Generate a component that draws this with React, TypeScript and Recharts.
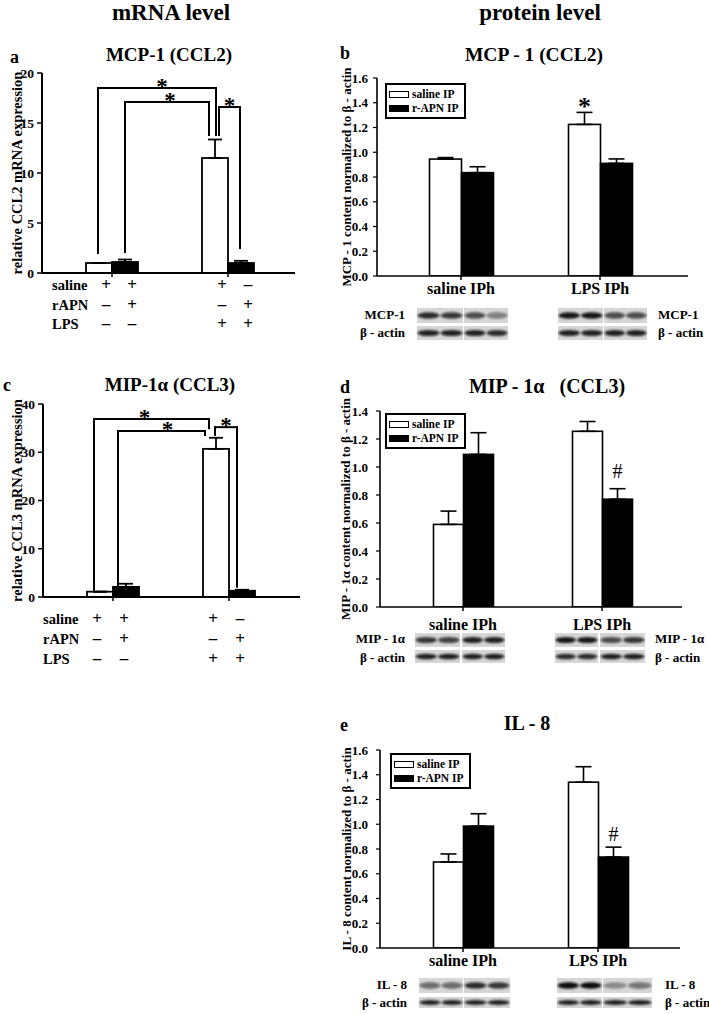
import React from "react";
import { BarChart, Bar, XAxis, YAxis, ErrorBar, ReferenceLine, Legend } from "recharts";

const SERIF = "'Liberation Serif', 'Times New Roman', Times, serif";

// ---------------- data: mRNA level (panels a, c) ----------------
const mrnaGroups = ["saline", "LPS"];
const conditionRows = ["saline", "rAPN", "LPS"];
const salineSigns = ["+", "+", "+", "–"];
const rapnSigns = ["–", "+", "–", "+"];
const lpsSigns = ["–", "–", "+", "+"];

const ccl2Control = [1.0, 11.5];
const ccl2ControlErr = [0, 1.85];
const ccl2Rapn = [1.1, 1.0];
const ccl2RapnErr = [0.25, 0.22];
const ccl2Ticks = [0, 5, 10, 15, 20];

const ccl3Control = [1.1, 30.7];
const ccl3ControlErr = [0, 2.3];
const ccl3Rapn = [2.1, 1.3];
const ccl3RapnErr = [0.65, 0.2];
const ccl3Ticks = [0, 10, 20, 30, 40];

// ---------------- data: protein level (panels b, d, e) ----------------
const proteinGroups = ["saline IPh", "LPS IPh"];
const seriesNames = ["saline IP", "r-APN IP"];

const mcp1Saline = [0.945, 1.225];
const mcp1SalineErr = [0.012, 0.097];
const mcp1Rapn = [0.835, 0.91];
const mcp1RapnErr = [0.048, 0.036];
const mcp1SalineMarks = ["", "*"];
const mcp1RapnMarks = ["", ""];
const mcp1Ticks = [0, 0.2, 0.4, 0.6, 0.8, 1.0, 1.2, 1.4, 1.6];

const mip1Saline = [0.59, 1.255];
const mip1SalineErr = [0.095, 0.07];
const mip1Rapn = [1.09, 0.77];
const mip1RapnErr = [0.155, 0.075];
const mip1SalineMarks = ["", ""];
const mip1RapnMarks = ["", "#"];
const mip1Ticks = [0, 0.2, 0.4, 0.6, 0.8, 1.0, 1.2, 1.4];

const il8Saline = [0.695, 1.34];
const il8SalineErr = [0.065, 0.125];
const il8Rapn = [0.985, 0.735];
const il8RapnErr = [0.1, 0.08];
const il8SalineMarks = ["", ""];
const il8RapnMarks = ["", "#"];
const il8Ticks = [0, 0.2, 0.4, 0.6, 0.8, 1.0, 1.2, 1.4, 1.6];

// significance brackets: [category, bar (0 = no rAPN, 1 = rAPN), fine dx]
const ccl2Brackets = [
  { l: ["saline", 0, -1], r: ["LPS", 0, 1], top: 18.5, lLow: 2.0, rLow: 13.8, starDx: 5 },
  { l: ["saline", 1, 0], r: ["LPS", 0, -6], top: 17.1, lLow: 2.1, rLow: 13.8, starDx: 3 },
  { l: ["LPS", 0, 4], r: ["LPS", 1, -1], top: 16.6, lLow: 13.8, rLow: 2.5, starDx: 0 },
];
const ccl3Brackets = [
  { l: ["saline", 0, -6], r: ["LPS", 0, -7], top: 36.9, lLow: 1.5, rLow: 35.0, starDx: -7 },
  { l: ["saline", 1, -8], r: ["LPS", 0, -11], top: 34.4, lLow: 1.9, rLow: 33.6, starDx: 6 },
  { l: ["LPS", 0, -1], r: ["LPS", 1, -5], top: 35.2, lLow: 33.6, rLow: 2.1, starDx: 0 },
];

// ---------------- helpers ----------------
const makeRows = (groups, a, aErr, b, bErr, aMarks?, bMarks?) =>
  groups.map((g, i) => ({
    g,
    a: a[i],
    aErr: aErr[i],
    b: b[i],
    bErr: bErr[i],
    aMark: aMarks ? aMarks[i] : "",
    bMark: bMarks ? bMarks[i] : "",
  }));

const barShape = (which, fill, sw, markCfg, rows) => (p) => {
  const { x, y, width, height, index } = p;
  const src = p.payload ?? rows[index];
  const mark = src ? src[which + "Mark"] : "";
  let markEl = null;
  if (mark && markCfg) {
    const val = src[which];
    const err = src[which + "Err"];
    const errPx = val ? (height * err) / val : 0;
    markEl = (
      <text
        x={x + width / 2}
        y={y - errPx - markCfg[mark].gap}
        textAnchor="middle"
        fontFamily={SERIF}
        fontSize={markCfg[mark].size}
        fontWeight={markCfg[mark].weight}
        fill="#000"
      >
        {mark}
      </text>
    );
  }
  return (
    <g>
      <rect x={x} y={y} width={width} height={Math.max(height, 0)} fill={fill} stroke="#000" strokeWidth={sw} />
      {markEl}
    </g>
  );
};

const offsetLine = (dx1, dx2, star?, starDx?) => (p) => (
  <g>
    <line
      x1={p.x1 + dx1}
      y1={p.y1}
      x2={p.x2 + dx2}
      y2={p.y2}
      stroke="#000"
      strokeWidth={2}
      strokeLinecap="square"
    />
    {star ? (
      <text
        x={(p.x1 + dx1 + p.x2 + dx2) / 2 + (starDx || 0)}
        y={p.y1 + 6}
        textAnchor="middle"
        fontFamily={SERIF}
        fontWeight="bold"
        fontSize={23}
        fill="#000"
      >
        *
      </text>
    ) : null}
  </g>
);

const mrnaTick = (cfg) => (props) => {
  const { x, y, index } = props;
  const els = [];
  [salineSigns, rapnSigns, lpsSigns].forEach((signs, r) => {
    [0, 1].forEach((j) => {
      els.push(
        <text
          key={`s${r}${j}`}
          x={x + cfg.signDx[j]}
          y={y + cfg.rowDy[r]}
          textAnchor="middle"
          fontFamily={SERIF}
          fontWeight="bold"
          fontSize={17}
          fill="#000"
        >
          {signs[index * 2 + j]}
        </text>
      );
    });
    if (index === 0) {
      els.push(
        <text
          key={`n${r}`}
          x={x - cfg.nameOffset}
          y={y + cfg.rowDy[r]}
          textAnchor="start"
          fontFamily={SERIF}
          fontWeight="bold"
          fontSize={14.5}
          fill="#000"
        >
          {conditionRows[r]}
        </text>
      );
    }
  });
  return <g>{els}</g>;
};

function MrnaPanel({ cfg }) {
  const rows = makeRows(mrnaGroups, cfg.control, cfg.controlErr, cfg.rapn, cfg.rapnErr);
  const half = cfg.barSize / 2;
  const lw = 2;
  const off = (bar, dx) => (bar === 0 ? -half : half) + dx;
  const bracketEls = [];
  cfg.brackets.forEach((br, k) => {
    const lo = off(br.l[1], br.l[2]);
    const ro = off(br.r[1], br.r[2]);
    bracketEls.push(
      <ReferenceLine
        key={`bl${k}`}
        ifOverflow="visible"
        segment={[{ x: br.l[0], y: br.lLow }, { x: br.l[0], y: br.top }]}
        shape={offsetLine(lo, lo)}
      />
    );
    bracketEls.push(
      <ReferenceLine
        key={`bt${k}`}
        ifOverflow="visible"
        segment={[{ x: br.l[0], y: br.top }, { x: br.r[0], y: br.top }]}
        shape={offsetLine(lo, ro, true, br.starDx)}
      />
    );
    bracketEls.push(
      <ReferenceLine
        key={`br${k}`}
        ifOverflow="visible"
        segment={[{ x: br.r[0], y: br.top }, { x: br.r[0], y: br.rLow }]}
        shape={offsetLine(ro, ro)}
      />
    );
  });
  return (
    <div style={{ position: "absolute", left: cfg.left, top: cfg.top }}>
      <BarChart width={cfg.width} height={cfg.height} data={rows} margin={cfg.margin} barGap={0} barSize={cfg.barSize}>
        <XAxis
          dataKey="g"
          type="category"
          padding={cfg.padding}
          height={cfg.xHeight}
          axisLine={{ stroke: "#000", strokeWidth: lw }}
          tickLine={{ stroke: "#000", strokeWidth: 1.5 }}
          tickSize={4}
          tickMargin={0}
          interval={0}
          tick={mrnaTick(cfg)}
        />
        <XAxis xAxisId="top" orientation="top" height={0} tick={false} tickLine={false} axisLine={{ stroke: "#000", strokeWidth: lw }} />
        <YAxis
          domain={cfg.domain}
          ticks={cfg.ticks}
          allowDataOverflow
          width={cfg.yWidth}
          axisLine={{ stroke: "#000", strokeWidth: lw }}
          tickLine={{ stroke: "#000", strokeWidth: 1.5 }}
          tickSize={5}
          tickMargin={3}
          tick={{ fontFamily: SERIF, fontWeight: "bold", fontSize: 13.5, fill: "#000" }}
          label={{
            value: cfg.yLabel,
            angle: -90,
            position: "insideLeft",
            offset: cfg.labelX,
            style: { textAnchor: "middle", fontFamily: SERIF, fontWeight: "bold", fontSize: 14.5, fill: "#000" },
          }}
        />
        <YAxis yAxisId="right" orientation="right" width={0} domain={[0, 1]} tick={false} tickLine={false} axisLine={{ stroke: "#000", strokeWidth: lw }} />
        <Bar dataKey="a" fill="#fff" isAnimationActive={false} shape={barShape("a", "#fff", 1.8, null, rows)}>
          <ErrorBar dataKey={(d) => [0, (d.payload ?? d).aErr]} width={7} strokeWidth={1.8} stroke="#000" direction="y" />
        </Bar>
        <Bar dataKey="b" fill="#000" isAnimationActive={false} shape={barShape("b", "#000", 1.8, null, rows)}>
          <ErrorBar dataKey={(d) => [0, (d.payload ?? d).bErr]} width={7} strokeWidth={1.8} stroke="#000" direction="y" />
        </Bar>
        {bracketEls}
      </BarChart>
    </div>
  );
}

const legendContent = () => (
  <div
    style={{
      border: "2.5px solid #000",
      padding: "2px 5px 2px 2px",
      background: "#fff",
      fontFamily: SERIF,
      fontWeight: "bold",
      fontSize: 11.5,
      lineHeight: "14px",
      whiteSpace: "nowrap",
      color: "#000",
    }}
  >
    {seriesNames.map((n, i) => (
      <div key={n} style={{ display: "flex", alignItems: "center" }}>
        <span
          style={{
            display: "inline-block",
            width: 20,
            height: 7,
            background: i ? "#000" : "#fff",
            border: "1.5px solid #000",
            boxSizing: "border-box",
            marginRight: 3,
          }}
        />
        {n}
      </div>
    ))}
  </div>
);

const markCfgProtein = {
  "*": { gap: -3, size: 26, weight: "bold" },
  "#": { gap: 9, size: 20, weight: "normal" },
};

function ProteinPanel({ cfg }) {
  const rows = makeRows(proteinGroups, cfg.saline, cfg.salineErr, cfg.rapn, cfg.rapnErr, cfg.salineMarks, cfg.rapnMarks);
  const lw = 1.6;
  const marks = { "*": markCfgProtein["*"], "#": { ...markCfgProtein["#"], gap: cfg.hashGap } };
  return (
    <div style={{ position: "absolute", left: cfg.left, top: cfg.top }}>
      <BarChart width={cfg.width} height={cfg.height} data={rows} margin={cfg.margin} barGap={0} barSize={cfg.barSize}>
        <XAxis
          dataKey="g"
          type="category"
          padding={cfg.padding}
          height={cfg.xHeight}
          axisLine={{ stroke: "#000", strokeWidth: lw }}
          tickLine={{ stroke: "#000", strokeWidth: 1.5 }}
          tickSize={4}
          tickMargin={0}
          interval={0}
          tick={(p) => (
            <text x={p.x} y={p.y + cfg.xLabelDy} textAnchor="middle" fontFamily={SERIF} fontWeight="bold" fontSize={16} fill="#000">
              {p.payload.value}
            </text>
          )}
        />
        <XAxis xAxisId="top" orientation="top" height={0} tick={false} tickLine={false} axisLine={{ stroke: "#000", strokeWidth: lw }} />
        <YAxis
          domain={cfg.domain}
          ticks={cfg.ticks}
          allowDataOverflow
          width={cfg.yWidth}
          axisLine={{ stroke: "#000", strokeWidth: lw }}
          tickLine={{ stroke: "#000", strokeWidth: 1.2 }}
          tickSize={4}
          tickMargin={cfg.tickMargin}
          tickFormatter={(v) => Number(v).toFixed(1)}
          tick={{ fontFamily: SERIF, fontWeight: "bold", fontSize: 13, fill: "#000" }}
          label={{
            value: cfg.yLabel,
            angle: -90,
            position: "insideLeft",
            offset: cfg.labelX,
            style: { textAnchor: "middle", fontFamily: SERIF, fontWeight: "bold", fontSize: 13, fill: "#000" },
          }}
        />
        <YAxis yAxisId="right" orientation="right" width={0} domain={[0, 1]} tick={false} tickLine={false} axisLine={{ stroke: "#000", strokeWidth: lw }} />
        <Legend
          layout="vertical"
          align="center"
          verticalAlign="middle"
          content={legendContent}
          wrapperStyle={{ left: cfg.legend.left, top: cfg.legend.top, width: "auto" }}
        />
        <Bar dataKey="a" name={seriesNames[0]} fill="#fff" isAnimationActive={false} shape={barShape("a", "#fff", 1.6, marks, rows)}>
          <ErrorBar dataKey={(d) => [0, (d.payload ?? d).aErr]} width={8} strokeWidth={1.6} stroke="#000" direction="y" />
        </Bar>
        <Bar dataKey="b" name={seriesNames[1]} fill="#000" isAnimationActive={false} shape={barShape("b", "#000", 1.6, marks, rows)}>
          <ErrorBar dataKey={(d) => [0, (d.payload ?? d).bErr]} width={8} strokeWidth={1.6} stroke="#000" direction="y" />
        </Bar>
      </BarChart>
    </div>
  );
}

// ---------------- western blot strips (decorative images) ----------------
function Blot({ spec }) {
  const els = [];
  const rowTops = spec.rowY;
  const rowHs = spec.rowH;
  spec.boxes.forEach((bx, bi) => {
    [0, 1].forEach((r) => {
      const y0 = rowTops[r];
      const h = rowHs[r];
      els.push(<rect key={`bg${bi}${r}`} x={bx[0]} y={y0} width={bx[1] - bx[0]} height={h} fill="#d6d6d6" />);
      const laneW = (bx[1] - bx[0]) / 2;
      [0, 1].forEach((ln) => {
        const d = (r === 0 ? spec.protein : spec.actin)[bi * 2 + ln];
        els.push(
          <ellipse
            key={`bd${bi}${r}${ln}`}
            cx={bx[0] + laneW * (ln + 0.5)}
            cy={y0 + h / 2}
            rx={laneW / 2 - 0.5}
            ry={h * 0.22}
            fill={`rgba(15,15,15,${d})`}
            filter="url(#blur)"
          />
        );
      });
    });
  });
  const txt = (x, y, s, anchor) => (
    <text x={x} y={y} textAnchor={anchor} fontFamily={SERIF} fontWeight="bold" fontSize={13} fill="#000">
      {s}
    </text>
  );
  return (
    <g>
      {els}
      {txt(spec.leftLabelX, spec.baselines[0], spec.name, "end")}
      {txt(spec.leftLabelX, spec.baselines[1], "β - actin", "end")}
      {txt(spec.rightLabelX, spec.baselines[0], spec.name, "start")}
      {txt(spec.rightLabelX, spec.baselines[1], "β - actin", "start")}
    </g>
  );
}

const blotSpecs = [
  {
    name: "MCP-1",
    rowY: [308, 326],
    rowH: [15, 14],
    baselines: [319, 337],
    leftLabelX: 405,
    rightLabelX: 658,
    boxes: [[417, 463], [464, 508], [558, 603], [604, 647]],
    protein: [0.85, 0.8, 0.7, 0.45, 0.95, 0.95, 0.7, 0.7],
    actin: [0.9, 0.9, 0.9, 0.85, 0.9, 0.9, 0.9, 0.9],
  },
  {
    name: "MIP - 1α",
    rowY: [633, 650],
    rowH: [14, 13],
    baselines: [643, 662],
    leftLabelX: 405,
    rightLabelX: 655,
    boxes: [[415, 460], [462, 505], [555, 598], [600, 645]],
    protein: [0.8, 0.75, 0.9, 0.9, 0.95, 0.95, 0.7, 0.8],
    actin: [0.9, 0.9, 0.9, 0.9, 0.85, 0.85, 0.9, 0.9],
  },
  {
    name: "IL - 8",
    rowY: [978, 997],
    rowH: [15, 11],
    baselines: [989, 1007],
    leftLabelX: 407,
    rightLabelX: 665,
    boxes: [[419, 463], [464, 510], [557, 602], [603, 652]],
    protein: [0.55, 0.55, 0.85, 0.8, 1, 1, 0.35, 0.5],
    actin: [0.9, 0.9, 0.9, 0.9, 0.9, 0.9, 0.9, 0.9],
  },
];

const headerTexts = [
  { s: "mRNA level", x: 171, y: 20, size: 23, anchor: "middle" },
  { s: "protein level", x: 540, y: 20, size: 23, anchor: "middle" },
  { s: "a", x: 10, y: 63, size: 18, anchor: "start" },
  { s: "MCP-1 (CCL2)", x: 169, y: 61, size: 19, anchor: "middle" },
  { s: "b", x: 340, y: 59, size: 18, anchor: "start" },
  { s: "MCP - 1 (CCL2)", x: 534, y: 61, size: 19.5, anchor: "middle" },
  { s: "c", x: 3, y: 391, size: 18, anchor: "start" },
  { s: "MIP-1α (CCL3)", x: 170, y: 391, size: 19, anchor: "middle" },
  { s: "d", x: 340, y: 393, size: 18, anchor: "start" },
  { s: "MIP - 1α   (CCL3)", x: 547, y: 393, size: 20, anchor: "middle" },
  { s: "e", x: 340, y: 731, size: 18, anchor: "start" },
  { s: "IL - 8", x: 527, y: 730, size: 20, anchor: "middle" },
];

const panelA = {
  left: 0, top: 40, width: 310, height: 300,
  margin: { top: 33, right: 15, bottom: 7, left: 0 },
  yWidth: 42, xHeight: 60, domain: [0, 20], ticks: ccl2Ticks,
  padding: { left: 12, right: 9 }, barSize: 26, labelX: 17,
  rowDy: [13, 33, 52], signDx: [-6, 20], nameOffset: 60,
  control: ccl2Control, controlErr: ccl2ControlErr, rapn: ccl2Rapn, rapnErr: ccl2RapnErr,
  brackets: ccl2Brackets, yLabel: "relative CCL2 mRNA expression",
};
const panelC = {
  left: 0, top: 380, width: 310, height: 300,
  margin: { top: 24, right: 10, bottom: 7, left: 0 },
  yWidth: 43, xHeight: 76, domain: [0, 40], ticks: ccl3Ticks,
  padding: { left: 12, right: 13 }, barSize: 26, labelX: 17,
  rowDy: [23, 43, 63], signDx: [-16, 11], nameOffset: 70,
  control: ccl3Control, controlErr: ccl3ControlErr, rapn: ccl3Rapn, rapnErr: ccl3RapnErr,
  brackets: ccl3Brackets, yLabel: "relative CCL3 mRNA expression",
};
const panelB = {
  left: 340, top: 70, width: 369, height: 260,
  margin: { top: 8, right: 21, bottom: 24, left: 0 },
  yWidth: 37, xHeight: 30, domain: [0, 1.6], ticks: mcp1Ticks, tickMargin: 5,
  padding: { left: 14.5, right: 18.5 }, barSize: 32, labelX: 6, xLabelDy: 14,
  legend: { left: 45, top: 13 }, hashGap: 9,
  saline: mcp1Saline, salineErr: mcp1SalineErr, rapn: mcp1Rapn, rapnErr: mcp1RapnErr,
  salineMarks: mcp1SalineMarks, rapnMarks: mcp1RapnMarks,
  yLabel: "MCP - 1 content normalized to β - actin",
};
const panelD = {
  left: 340, top: 400, width: 369, height: 240,
  margin: { top: 11, right: 27, bottom: 3, left: 0 },
  yWidth: 40, xHeight: 30, domain: [0, 1.4], ticks: mip1Ticks, tickMargin: 8,
  padding: { left: 13.5, right: 10.5 }, barSize: 30, labelX: 5, xLabelDy: 19,
  legend: { left: 45, top: 13 }, hashGap: 11,
  saline: mip1Saline, salineErr: mip1SalineErr, rapn: mip1Rapn, rapnErr: mip1RapnErr,
  salineMarks: mip1SalineMarks, rapnMarks: mip1RapnMarks,
  yLabel: "MIP - 1α content normalized to β - actin",
};
const panelE = {
  left: 340, top: 740, width: 369, height: 240,
  margin: { top: 10, right: 29, bottom: 2, left: 0 },
  yWidth: 40, xHeight: 30, domain: [0, 1.6], ticks: il8Ticks, tickMargin: 8,
  padding: { left: 15.5, right: 14.5 }, barSize: 30, labelX: 6, xLabelDy: 14,
  legend: { left: 50, top: 13 }, hashGap: 6,
  saline: il8Saline, salineErr: il8SalineErr, rapn: il8Rapn, rapnErr: il8RapnErr,
  salineMarks: il8SalineMarks, rapnMarks: il8RapnMarks,
  yLabel: "IL - 8 content normalized to β - actin",
};

export default function App() {
  return (
    <div style={{ position: "absolute", left: 0, top: 0, width: 709, height: 1014, background: "#fff", fontFamily: SERIF, overflow: "hidden" }}>
      <style>{".recharts-surface{overflow:visible}"}</style>
      <MrnaPanel cfg={panelA} />
      <MrnaPanel cfg={panelC} />
      <ProteinPanel cfg={panelB} />
      <ProteinPanel cfg={panelD} />
      <ProteinPanel cfg={panelE} />
      <svg width={709} height={1014} style={{ position: "absolute", left: 0, top: 0, pointerEvents: "none" }}>
        <defs>
          <filter id="blur" x="-20%" y="-50%" width="140%" height="200%">
            <feGaussianBlur stdDeviation="0.9" />
          </filter>
        </defs>
        {headerTexts.map((t) => (
          <text
            key={t.s}
            x={t.x}
            y={t.y}
            textAnchor={t.anchor}
            fontFamily={SERIF}
            fontWeight="bold"
            fontSize={t.size}
            fill="#000"
            style={{ whiteSpace: "pre" }}
          >
            {t.s}
          </text>
        ))}
        {blotSpecs.map((b) => (
          <Blot key={b.name} spec={b} />
        ))}
      </svg>
    </div>
  );
}
